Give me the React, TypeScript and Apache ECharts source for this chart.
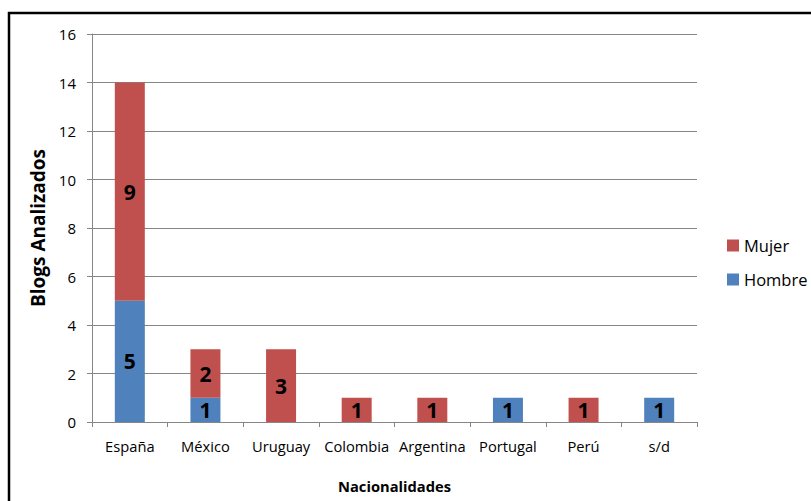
import React, { useEffect, useRef } from "react";
import * as echarts from "echarts";

const categories = ["España", "México", "Uruguay", "Colombia", "Argentina", "Portugal", "Perú", "s/d"];
const hombre = [5, 1, 0, 0, 0, 1, 0, 1];
const mujer = [9, 2, 3, 1, 1, 0, 1, 0];
const yTicks = { min: 0, max: 16, interval: 2 };

const FONT = "Open Sans";

export default function App() {
  const ref = useRef<HTMLDivElement>(null);
  useEffect(() => {
    document.body.style.margin = "0";
    const chart = echarts.init(ref.current!, null, { renderer: "svg" });
    const label = {
      show: true,
      position: "inside",
      color: "#000",
      fontFamily: FONT,
      fontWeight: "bold",
      fontSize: 21,
      formatter: (p: any) => (p.value ? String(p.value) : ""),
    };
    chart.setOption({
      animation: false,
      backgroundColor: "#fff",
      textStyle: { fontFamily: FONT },
      graphic: [
        {
          type: "rect",
          shape: { x: 9, y: 13, width: 900, height: 600 },
          style: { fill: "none", stroke: "#000", lineWidth: 2.5 },
          silent: true,
        },
      ],
      grid: { left: 92, top: 34, right: 114, bottom: 79 },
      legend: {
        orient: "vertical",
        left: 722,
        top: 232,
        itemWidth: 12,
        itemHeight: 12,
        itemGap: 17,
        icon: "rect",
        textStyle: { fontFamily: FONT, fontSize: 16.5, color: "#000" },
        data: ["Mujer", "Hombre"],
      },
      xAxis: {
        type: "category",
        data: categories,
        name: "Nacionalidades",
        nameLocation: "middle",
        nameGap: 56,
        nameTextStyle: { fontFamily: FONT, fontWeight: "bold", fontSize: 14.7, color: "#000" },
        axisLine: { lineStyle: { color: "#868686", width: 1 } },
        axisTick: { show: true, length: 5, interval: 0, lineStyle: { color: "#868686", width: 1 } },
        axisLabel: { color: "#000", fontFamily: FONT, fontSize: 14.7, margin: 16, interval: 0 },
      },
      yAxis: {
        type: "value",
        min: yTicks.min,
        max: yTicks.max,
        interval: yTicks.interval,
        name: "Blogs Analizados",
        nameLocation: "middle",
        nameGap: 42,
        nameTextStyle: { fontFamily: FONT, fontWeight: "bold", fontSize: 19, color: "#000" },
        axisLine: { show: true, lineStyle: { color: "#868686", width: 1 } },
        axisTick: { show: true, length: 5, lineStyle: { color: "#868686" } },
        axisLabel: { color: "#000", fontFamily: FONT, fontSize: 15, margin: 16 },
        splitLine: { lineStyle: { color: "#868686", width: 1 } },
      },
      series: [
        {
          name: "Hombre",
          type: "bar",
          stack: "total",
          data: hombre,
          barWidth: 30,
          itemStyle: { color: "#4F81BD" },
          label,
        },
        {
          name: "Mujer",
          type: "bar",
          stack: "total",
          data: mujer,
          barWidth: 30,
          itemStyle: { color: "#C0504D" },
          label,
        },
      ],
    });
    return () => chart.dispose();
  }, []);
  return <div ref={ref} style={{ width: 811, height: 501 }} />;
}
